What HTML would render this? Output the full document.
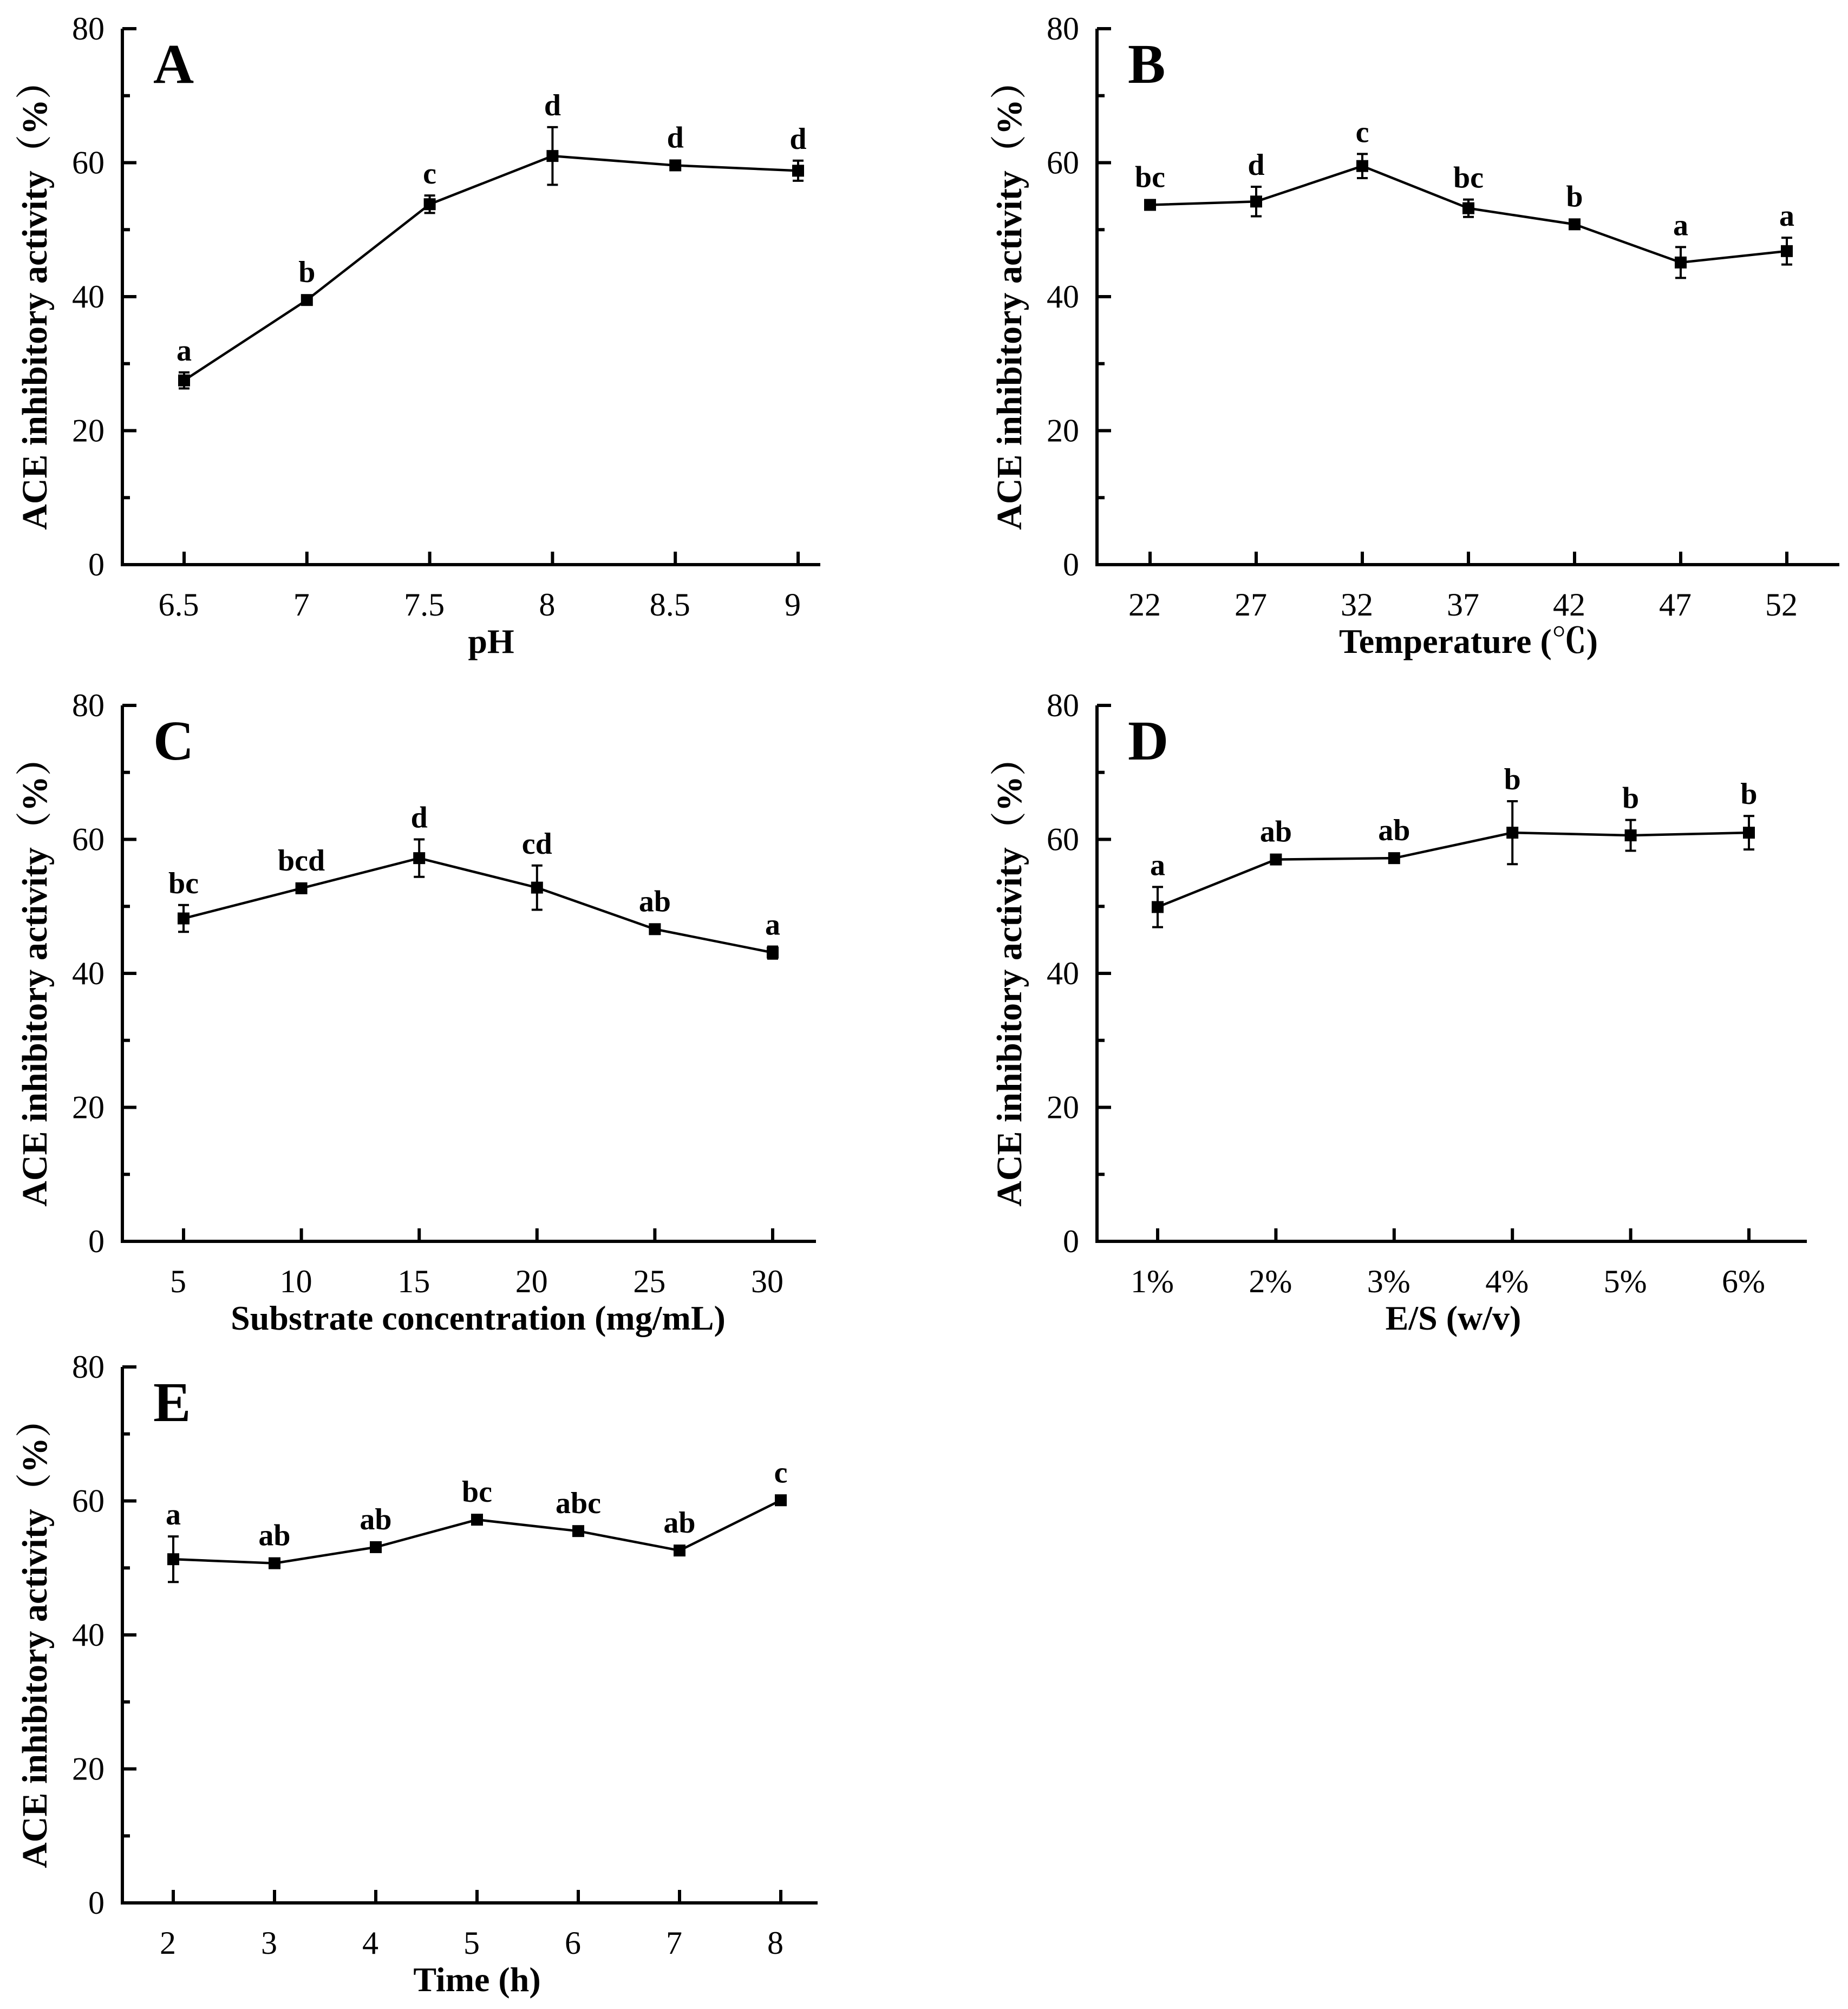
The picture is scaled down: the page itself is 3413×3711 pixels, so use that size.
<!DOCTYPE html>
<html><head><meta charset="utf-8"><style>
html,body{margin:0;padding:0;background:#fff}
svg{display:block}
text{font-family:"Liberation Serif","Noto Serif CJK SC",serif;fill:#000}
</style></head><body>
<svg id="fig" width="3413" height="3711" viewBox="0 0 3413 3711" xmlns="http://www.w3.org/2000/svg"></svg>
<script>
// Panel A (pH)
const catsA = ["6.5","7","7.5","8","8.5","9"];
const valsA = [27.5,39.5,53.8,61.0,59.6,58.8];
const errsA = [1.2,0.5,1.3,4.3,0.5,1.5];
const letA = ["a","b","c","d","d","d"];
// Panel B (Temperature)
const catsB = ["22","27","32","37","42","47","52"];
const valsB = [53.7,54.2,59.5,53.2,50.8,45.1,46.8];
const errsB = [0.5,2.2,1.8,1.3,0.6,2.3,2.0];
const letB = ["bc","d","c","bc","b","a","a"];
// Panel C (Substrate)
const catsC = ["5","10","15","20","25","30"];
const valsC = [48.2,52.7,57.2,52.8,46.6,43.1];
const errsC = [2.0,0.5,2.8,3.3,0.4,0.9];
const letC = ["bc","bcd","d","cd","ab","a"];
// Panel D (E/S)
const catsD = ["1%","2%","3%","4%","5%","6%"];
const valsD = [49.9,57.0,57.2,61.0,60.6,61.0];
const errsD = [3.0,0.5,0.6,4.7,2.3,2.5];
const letD = ["a","ab","ab","b","b","b"];
// Panel E (Time)
const catsE = ["2","3","4","5","6","7","8"];
const valsE = [51.3,50.7,53.1,57.2,55.5,52.6,60.1];
const errsE = [3.4,0.5,0.6,0.5,0.6,0.5,0.7];
const letE = ["a","ab","ab","bc","abc","ab","c"];
const yTicks = [0,20,40,60,80];
const yMinor = [10,30,50,70];

const svg = document.getElementById('fig');
const NS = "http://www.w3.org/2000/svg";
function mk(tag, attrs, parent){
  const e = document.createElementNS(NS, tag);
  for (const k in attrs) e.setAttribute(k, attrs[k]);
  parent.appendChild(e);
  return e;
}
function panel(id, letter, cats, vals, errs, lets, P, xTitle){
  const g = mk('g', {}, svg);
  
  
  const yS = v => P.y0 - (v/80)*(P.y0 - P.y80);
  const xS = i => P.x1 + i*P.dx;
  const ax = mk('path', {d:`M${P.ax} ${P.y80} L${P.ax} ${P.y0} L${P.xr} ${P.y0}`, fill:'none', stroke:'#000', 'stroke-width':6}, g);
  
  
  yTicks.forEach(t => {
    const y = yS(t);
    if (t > 0) {
      const tk = mk('line', {x1:P.ax, x2:P.ax+26, y1:y, y2:y, stroke:'#000', 'stroke-width':6}, g);
      
      
    }
    const tl = mk('text', {x:P.ax-33, y:y+20, 'text-anchor':'end', 'font-size':60}, g);
    tl.textContent = t;
    
    
  });
  yMinor.forEach(t => {
    const y = yS(t);
    const tk = mk('line', {x1:P.ax, x2:P.ax+14, y1:y, y2:y, stroke:'#000', 'stroke-width':6}, g);
    
    
  });
  cats.forEach((c, i) => {
    const x = xS(i);
    const tk = mk('line', {x1:x, x2:x, y1:P.y0, y2:P.y0-24, stroke:'#000', 'stroke-width':6}, g);
    
    
    const tl = mk('text', {x:x-10, y:P.y0+94, 'text-anchor':'middle', 'font-size':60}, g);
    tl.textContent = c;
    
    
  });
  const pts = vals.map((v, i) => `${xS(i)},${yS(v)}`).join(' ');
  const ln = mk('polyline', {points:pts, fill:'none', stroke:'#000', 'stroke-width':4.5}, g);
  
  
  vals.forEach((v, i) => {
    const x = xS(i), y = yS(v);
    const yt = yS(v + errs[i]), yb = yS(v - errs[i]);
    const eb = mk('path', {d:`M${x} ${yt} L${x} ${yb} M${x-10} ${yt} L${x+10} ${yt} M${x-10} ${yb} L${x+10} ${yb}`, stroke:'#000', 'stroke-width':4, fill:'none'}, g);
    
    
    const m = mk('rect', {x:x-11, y:y-11, width:22, height:22, fill:'#000'}, g);
    
    
    const lt = mk('text', {x:x, y:Math.min(yt, y-11)-22, 'text-anchor':'middle', 'font-size':56, 'font-weight':'bold'}, g);
    lt.textContent = lets[i];
    
    
  });
  const pl = mk('text', {x:P.ax+57, y:P.y80+100, 'font-size':104, 'font-weight':'bold'}, g);
  pl.textContent = letter;
  
  
  const xc = (xS(0) + xS(cats.length-1))/2;
  const xt = mk('text', {x:xc, y:P.y0+163, 'text-anchor':'middle', 'font-size':64, 'font-weight':'bold'}, g);
  xt.textContent = xTitle;
  
  
  const yc = (P.y0 + P.y80)/2;
  const yt = mk('text', {x:0, y:0, 'text-anchor':'middle', 'font-size':66, 'font-weight':'bold', transform:`translate(${P.ax-140},${yc}) rotate(-90)`}, g);
  yt.textContent = 'ACE inhibitory activity（%）';
  
  
}
panel('a','A',catsA,valsA,errsA,letA,{ax:226,y80:53,y0:1043,xr:1515,x1:340,dx:226.8},'pH');
panel('b','B',catsB,valsB,errsB,letB,{ax:2026,y80:53,y0:1043,xr:3397,x1:2124,dx:196},'Temperature (℃)');
panel('c','C',catsC,valsC,errsC,letC,{ax:226,y80:1303,y0:2293,xr:1507,x1:339,dx:217.6},'Substrate concentration (mg/mL)');
panel('d','D',catsD,valsD,errsD,letD,{ax:2026,y80:1303,y0:2293,xr:3337,x1:2138,dx:218.4},'E/S (w/v)');
panel('e','E',catsE,valsE,errsE,letE,{ax:226,y80:2525,y0:3515,xr:1510,x1:320,dx:187},'Time (h)');
</script>
</body></html>
